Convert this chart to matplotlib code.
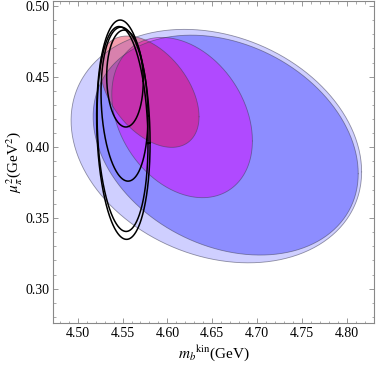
import numpy as np
import matplotlib
matplotlib.use("Agg")
import matplotlib.pyplot as plt
from matplotlib.ticker import MultipleLocator, FormatStrFormatter

plt.rcParams["font.family"] = ["Liberation Serif", "DejaVu Serif"]
plt.rcParams["mathtext.fontset"] = "stix"

# filled regions: centre, half-extent in x and y, correlation
fill_cx = [4.6546, 4.665, 4.6164, 4.5801]
fill_cy = [0.4009, 0.4016, 0.4211, 0.4394]
fill_sx = [0.162, 0.1478, 0.0784, 0.0552]
fill_sy = [0.0826, 0.0778, 0.0567, 0.0394]
fill_rho = [-0.22, -0.26, -0.29, -0.45]
fill_colors = [(0.25, 0.25, 1.0), (0.2, 0.2, 1.0), (0.85, 0.0, 1.0), (0.9, 0.05, 0.2)]
fill_alpha = [0.25, 0.42, 0.47, 0.40]

# black contours
line_cx = [4.5527, 4.5522, 4.5500, 4.5509]
line_cy = [0.4487, 0.4306, 0.4130, 0.4125]
line_sx = [0.0204, 0.0262, 0.0284, 0.0298]
line_sy = [0.0343, 0.0545, 0.0725, 0.0776]
line_rho = [-0.05, -0.15, -0.14, -0.12]

x_ticks = [4.50, 4.55, 4.60, 4.65, 4.70, 4.75, 4.80]
y_ticks = [0.30, 0.35, 0.40, 0.45, 0.50]


def ellipse(cx, cy, sx, sy, rho, n=400):
    t = np.linspace(0, 2 * np.pi, n)
    x = cx + sx * np.cos(t)
    y = cy + sy * (rho * np.cos(t) + np.sqrt(1 - rho ** 2) * np.sin(t))
    return x, y


fig = plt.figure(figsize=(3.76, 3.65), dpi=100)
ax = fig.add_axes([0.1418, 0.115, 0.8529, 0.882])

for i in range(len(fill_cx)):
    x, y = ellipse(fill_cx[i], fill_cy[i], fill_sx[i], fill_sy[i], fill_rho[i])
    ax.fill(x, y, color=fill_colors[i], alpha=fill_alpha[i], lw=0)
    ax.plot(x, y, color=(0.25, 0.25, 0.35), alpha=0.55, lw=0.6)

for i in range(len(line_cx)):
    x, y = ellipse(line_cx[i], line_cy[i], line_sx[i], line_sy[i], line_rho[i])
    ax.plot(x, y, color="black", lw=1.1)

ax.set_xlim(4.4728, 4.8304)
ax.set_ylim(0.2757, 0.5035)
ax.set_xticks(x_ticks)
ax.set_yticks(y_ticks)
ax.xaxis.set_major_formatter(FormatStrFormatter("%.2f"))
ax.yaxis.set_major_formatter(FormatStrFormatter("%.2f"))
ax.xaxis.set_minor_locator(MultipleLocator(0.01))
ax.yaxis.set_minor_locator(MultipleLocator(0.01))
ax.tick_params(which="both", direction="in", top=True, right=True, color="#888888", labelsize=10, pad=3)
ax.tick_params(which="major", length=3.5, width=0.6)
ax.tick_params(which="minor", length=1.8, width=0.5)
for s in ax.spines.values():
    s.set_color("#888888")
    s.set_linewidth(0.8)

ax.set_xlabel(r"$m_b{}^{\mathrm{kin}}$(GeV)", fontsize=11, labelpad=2)
ax.set_ylabel(r"$\mu_\pi^2$(GeV$^2$)", fontsize=11, labelpad=0)

fig.savefig("out.png", dpi=100)
